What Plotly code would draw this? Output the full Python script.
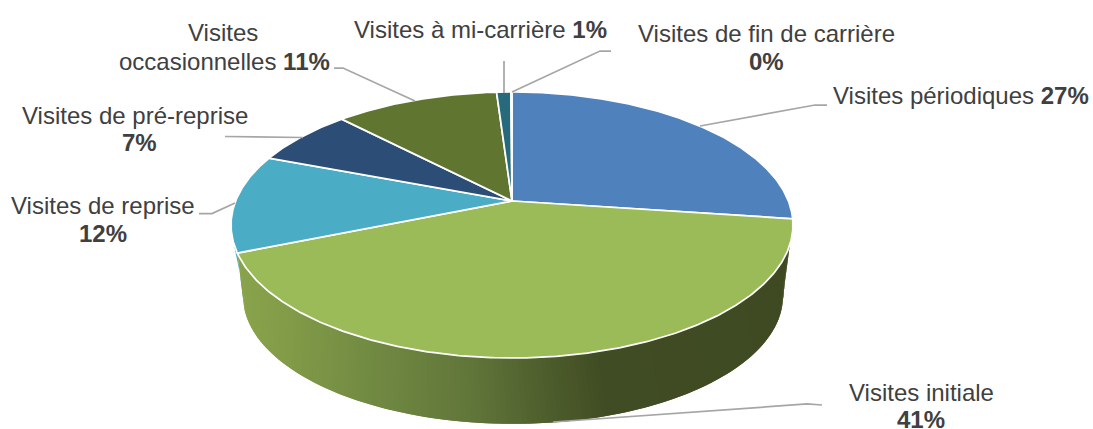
import numpy as np
import plotly.graph_objects as go

categories = ["Visites périodiques", "Visites initiale", "Visites de reprise", "Visites de pré-reprise",
              "Visites occasionnelles", "Visites à mi-carrière", "Visites de fin de carrière"]
values = [27.15, 41.7, 11.9, 7.0, 11.2, 0.98, 0.07]
percent_labels = ["27%", "41%", "12%", "7%", "11%", "1%", "0%"]
colors = ["#4F81BD", "#9BBB59", "#4BACC6", "#2C4D75", "#5F7530", "#276A7C", "#729ACA"]
side_gradient_x = [243, 290, 373, 473, 540, 607, 800]
side_gradient_rgb = [(137, 163, 76), (130, 155, 72), (113, 138, 66), (97, 118, 58), (80, 96, 46), (64, 76, 35), (63, 74, 34)]

W, H = 1093, 429
TXT = "#404040"
LEAD = "#A6A6A6"
FS = 24

def top(theta):
    t = np.radians(theta)
    u, v = np.sin(t), np.cos(t)
    d = 1 + 0.18 * v
    return 512 + 276.4 * u / d, 201 - 128.7 * v / d

def bottom(theta):
    t = np.radians(theta)
    u, v = np.sin(t), np.cos(t)
    d = 1 + 0.18 * v
    return 513 + 265.6 * u / d, 273 - 123.7 * v / d

edges = np.concatenate([[0], np.cumsum(values)]) / sum(values) * 360

fig = go.Figure()

def poly(x, y, color, line=None, width=0):
    fig.add_trace(go.Scatter(x=x, y=y, mode="lines", fill="toself", fillcolor=color,
                             line=dict(color=line or color, width=width),
                             hoverinfo="skip", showlegend=False))

# side sliver of the third slice
th_b = edges[2]
a = np.linspace(th_b, th_b + 8, 12)
xu, yu = top(a)
xl, yl = bottom(a[::-1] + 6.5)
poly(np.r_[xu, xl, xu[0]], np.r_[yu, yl, yu[0]], colors[2])

# gradient side of the second slice
n = 170
tt = np.linspace(0, 1, n + 1)
u_th = th_b + (108.8 - th_b) * tt
l_th = (th_b + 6.5) + (100.5 - th_b - 6.5) * tt
for i in range(n):
    j = min(i + 2, n)
    au = np.linspace(u_th[i], u_th[j], 4)
    al = np.linspace(l_th[j], l_th[i], 4)
    xu, yu = top(au)
    xl, yl = bottom(al)
    xm = (xu.mean() + xl.mean()) / 2
    c = [int(round(np.interp(xm, side_gradient_x, [p[k] for p in side_gradient_rgb]))) for k in range(3)]
    poly(np.r_[xu, xl, xu[0]], np.r_[yu, yl, yu[0]], f"rgb({c[0]},{c[1]},{c[2]})")

# top face
for i, col in enumerate(colors):
    a = np.linspace(edges[i], edges[i + 1], max(3, int((edges[i + 1] - edges[i]) * 2)))
    x, y = top(a)
    poly(np.r_[512, x, 512], np.r_[201, y, 201], col, "white", 1.75)

# leader lines
leaders = [
    [(700, 126), (815, 105), (827, 105)],
    [(553, 422), (807, 404), (822, 405)],
    [(235, 203), (212, 213.5), (199, 213.5)],
    [(303, 137.5), (225, 136.5)],
    [(415, 101), (343, 68), (334, 68)],
    [(504, 93), (504, 61)],
    [(512, 92), (600, 51), (611, 51)],
]
for pts in leaders:
    fig.add_trace(go.Scatter(x=[p[0] for p in pts], y=[p[1] for p in pts], mode="lines",
                             line=dict(color=LEAD, width=1.75), hoverinfo="skip", showlegend=False))

# text lines: (x centre, y centre, text)
label_lines = [
    (961, 95, f"{categories[0]} <b>{percent_labels[0]}</b>"),
    (921, 392, categories[1]),
    (921, 419, f"<b>{percent_labels[1]}</b>"),
    (103, 205, categories[2]),
    (103, 233, f"<b>{percent_labels[2]}</b>"),
    (135, 115, categories[3]),
    (139, 142, f"<b>{percent_labels[3]}</b>"),
    (223, 32, "Visites"),
    (224, 61, f"occasionnelles <b>{percent_labels[4]}</b>"),
    (480, 29, f"{categories[5]} <b>{percent_labels[5]}</b>"),
    (766, 33, categories[6]),
    (766, 61, f"<b>{percent_labels[6]}</b>"),
]
annotations = [dict(x=x, y=y, text=t, xref="x", yref="y", showarrow=False, xanchor="center", yanchor="middle",
                    font=dict(family="Liberation Sans, Arial", size=FS, color=TXT)) for x, y, t in label_lines]

fig.update_layout(width=W, height=H, margin=dict(l=0, r=0, t=0, b=0), paper_bgcolor="white", plot_bgcolor="white",
                  xaxis=dict(range=[0, W], visible=False, fixedrange=True),
                  yaxis=dict(range=[H, 0], visible=False, fixedrange=True),
                  annotations=annotations, showlegend=False)
fig.write_html("out.html", config=dict(displayModeBar=False),
               post_script="document.body.style.margin='0';document.body.style.overflow='hidden';")
